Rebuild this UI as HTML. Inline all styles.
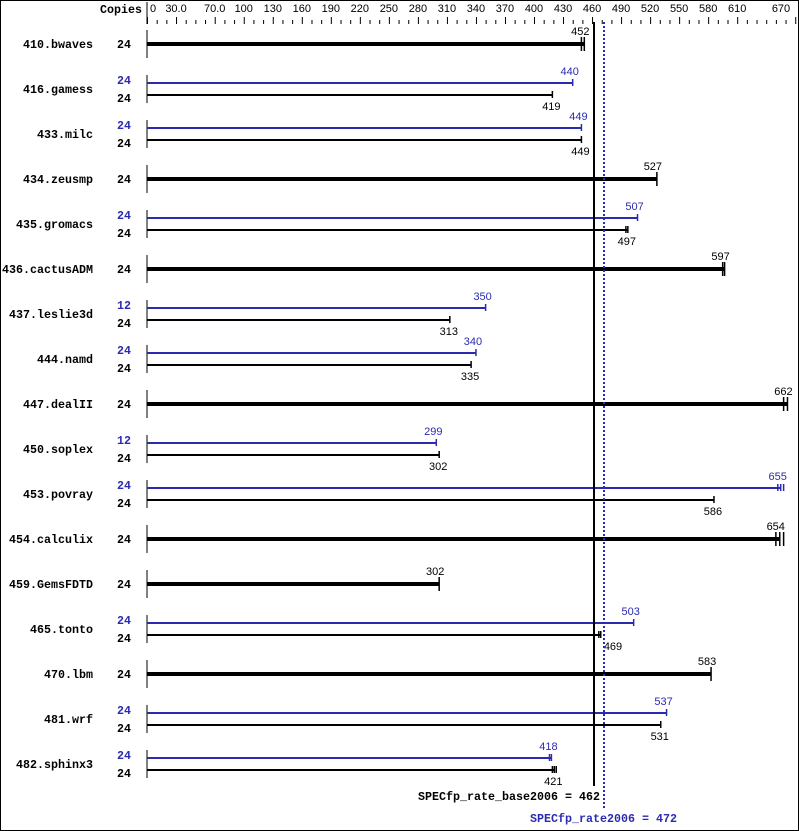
<!DOCTYPE html>
<html><head><meta charset="utf-8"><style>
html,body{margin:0;padding:0;background:#fff}
svg{display:block}
text{font-family:"Liberation Sans",sans-serif}
.b{font-weight:bold;font-size:12px;font-family:"Liberation Mono",monospace}
.t{font-size:11px}
</style></head><body>
<svg id="s" width="799" height="831" xmlns="http://www.w3.org/2000/svg">
<rect x="0.5" y="0.5" width="798" height="830" fill="#fff" stroke="#000"/>
</svg>
<script>
var s=document.getElementById('s'),NS='http://www.w3.org/2000/svg',B='#2b2bb0';
function el(t,a,txt){var e=document.createElementNS(NS,t);for(var k in a)e.setAttribute(k,a[k]);if(txt!=null)e.textContent=txt;s.appendChild(e);return e;}
function X(v){return 147+v*0.9675;}
function mono(x,y,str,anchor,fill){var w=str.length*7;var a={x:anchor=='end'?x-w:x,y:y,'class':'b',textLength:w,lengthAdjust:'spacingAndGlyphs'};if(fill)a.fill=fill;el('text',a,str);}
el('line',{x1:147,y1:2,x2:147,y2:24,stroke:'#000'});
mono(100,13,'Copies');
var labs=[0,30,70,100,130,160,190,220,250,280,310,340,370,400,430,460,490,520,550,580,610,670];
for(var v=0;v<=670;v+=10){var big=labs.indexOf(v)>=0;el('line',{x1:X(v)+.5,y1:big?17:20,x2:X(v)+.5,y2:24,stroke:'#000'});}
labs.forEach(function(v){var t=(v==30||v==70)?v+'.0':''+v;var x=v==0?150:(v==670?781:X(v));el('text',{x:x,y:12,'class':'t','text-anchor':v==0?'start':'middle'},t);});
var rows=[
['410.bwaves',null,null,24,[452,449]],
['416.gamess',24,[440],24,[419]],
['433.milc',24,[449],24,[449]],
['434.zeusmp',null,null,24,[527]],
['435.gromacs',24,[507],24,[497,495]],
['436.cactusADM',null,null,24,[597,595]],
['437.leslie3d',12,[350],24,[313]],
['444.namd',24,[340],24,[335]],
['447.dealII',null,null,24,[662,658]],
['450.soplex',12,[299],24,[302]],
['453.povray',24,[655,652,658],24,[586]],
['454.calculix',null,null,24,[654,650,658]],
['459.GemsFDTD',null,null,24,[302]],
['465.tonto',24,[503],24,[469,467]],
['470.lbm',null,null,24,[583]],
['481.wrf',24,[537],24,[531]],
['482.sphinx3',24,[418,416],24,[421,419,423]]];
rows.forEach(function(r,i){var c=44+45*i;
 el('line',{x1:147,y1:c-14,x2:147,y2:c+14,stroke:'#000'});
 mono(93,c+4,r[0],'end');
 if(r[1]==null){
  var v=r[4][0];
  mono(131,c+4,''+r[3],'end');
  el('rect',{x:147,y:c-2,width:X(v)-147,height:4,fill:'#000'});
  r[4].forEach(function(w){el('line',{x1:X(w),y1:c-7,x2:X(w),y2:c+7,stroke:'#000','stroke-width':1.5});});
  el('text',{x:X(v)-4,y:c-9,'class':'t','text-anchor':'middle'},''+v);
 } else {
  var p=r[2][0],b=r[4][0];
  mono(131,c-5,''+r[1],'end',B);
  mono(131,c+13,''+r[3],'end');
  el('rect',{x:147,y:c-7,width:X(p)-147,height:2,fill:B});
  r[2].forEach(function(w){el('line',{x1:X(w),y1:c-10,x2:X(w),y2:c-3,stroke:B,'stroke-width':1.5});});
  el('text',{x:X(p)-3,y:c-14,'class':'t','text-anchor':'middle',fill:B},''+p);
  el('rect',{x:147,y:c+5,width:X(b)-147,height:2,fill:'#000'});
  r[4].forEach(function(w){el('line',{x1:X(w),y1:c+2,x2:X(w),y2:c+9,stroke:'#000','stroke-width':1.5});});
  var lx=(b==469)?613:X(b)-1;
  el('text',{x:lx,y:c+21,'class':'t','text-anchor':'middle'},''+b);
 }
});
el('line',{x1:594,y1:22,x2:594,y2:786,stroke:'#000','stroke-width':2});
el('line',{x1:604,y1:22,x2:604,y2:808,stroke:B,'stroke-width':2,'stroke-dasharray':'2,2'});
mono(418,800,'SPECfp_rate_base2006 = 462');
mono(530,822,'SPECfp_rate2006 = 472','start',B);
</script>
</body></html>
